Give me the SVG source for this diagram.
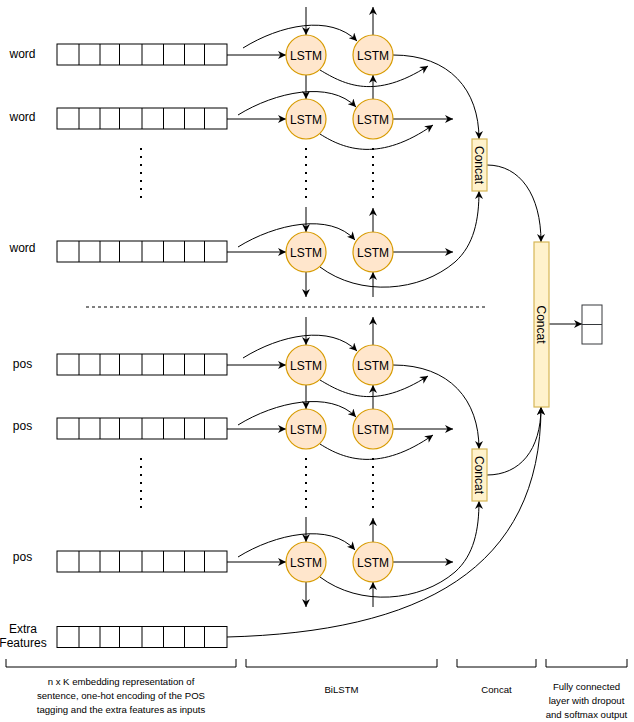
<svg xmlns="http://www.w3.org/2000/svg" xmlns:xlink="http://www.w3.org/1999/xlink" width="634" height="722" viewBox="0 0 634 722">
  <style>
    .cell{fill:#fff;stroke:#000;stroke-width:1}
    .lstm{fill:#ffe6cc;stroke:#d79b00;stroke-width:1.2}
    .cc{fill:#fff2cc;stroke:#d6b656;stroke-width:1.2}
    .t{font-family:"Liberation Sans",Arial,sans-serif;font-size:12px;fill:#000}
    .s{font-family:"Liberation Sans",Arial,sans-serif;font-size:9.6px;fill:#000}
    .mid{text-anchor:middle}
    .ln{fill:none;stroke:#000;stroke-width:1}
    .ar{marker-end:url(#ah)}
    .dot{fill:none;stroke:#000;stroke-width:2;stroke-dasharray:2 6}
    .dash{fill:none;stroke:#000;stroke-width:1;stroke-dasharray:3 3}
  </style>
  <defs>
    <marker id="ah" viewBox="0 0 10 10" refX="10" refY="5" markerWidth="8" markerHeight="8" markerUnits="userSpaceOnUse" orient="auto">
      <path d="M0,0 L10,5 L0,10 L3,5 z" fill="#000"/>
    </marker>
    <!-- 8-cell input vector -->
    <g id="vec">
      <rect x="0" y="0" width="170" height="21" class="cell"/>
      <path d="M22 0v21M43 0v21M62.5 0v21M85 0v21M106.5 0v21M127.5 0v21M147.5 0v21" class="ln"/>
    </g>
    <!-- recurrent links of one BiLSTM block (three time steps) -->
    <g id="block-links">
      <path class="ln ar" d="M306 7V35"/>
      <path class="ln ar" d="M373 35V7"/>
      <path class="ln ar" d="M227 55H286"/>
      <path class="ln ar" d="M243 48C280 25 330 14 357 41"/>
      <path class="ln ar" d="M320 70C345 85 375 100 428 66"/>
      <path class="ln ar" d="M393 55C450 55 479 90 479 139"/>
      <path class="ln ar" d="M306 75V99"/>
      <path class="ln ar" d="M373 99V75"/>
      <path class="ln ar" d="M227 119H286"/>
      <path class="ln ar" d="M238 115C275 92 330 80 356 107"/>
      <path class="ln ar" d="M320 134C345 150 380 162 433 125"/>
      <path class="ln ar" d="M393 119H453"/>
      <path class="dot" d="M141 148V198M306 148V198M373 148V198"/>
      <path class="ln ar" d="M306 207V232"/>
      <path class="ln ar" d="M373 232V208"/>
      <path class="ln ar" d="M227 252H286"/>
      <path class="ln ar" d="M238 247C275 224 330 212 355 240"/>
      <path class="ln ar" d="M393 252H453"/>
      <path class="ln ar" d="M306 272V297"/>
      <path class="ln ar" d="M373 297V272"/>
      <path class="ln ar" d="M320 267C360 297 420 292 455 262C474 245 479 220 479 191"/>
    </g>
  </defs>

  <!-- connectors -->
  <g id="connectors">
    <use xlink:href="#block-links"/>
    <use xlink:href="#block-links" transform="translate(0,310)"/>
    <path class="ln ar" d="M487 165C520 165 541 195 541 242"/>
    <path class="ln ar" d="M487 475C520 475 541 450 541 407"/>
    <path class="ln ar" d="M227 637C420 632 541 570 541 407"/>
    <path class="ln ar" d="M549 324H582"/>
    <path class="dash" d="M86 307H486"/>
  </g>

  <!-- word inputs -->
  <g id="word-1"><text class="t mid" x="22.5" y="58">word</text><use xlink:href="#vec" x="57" y="44"/></g>
  <g id="word-2"><text class="t mid" x="22.5" y="121">word</text><use xlink:href="#vec" x="57" y="108"/></g>
  <g id="word-n"><text class="t mid" x="22.5" y="252">word</text><use xlink:href="#vec" x="57" y="241"/></g>
  <!-- POS inputs -->
  <g id="pos-1"><text class="t mid" x="22.5" y="368">pos</text><use xlink:href="#vec" x="57" y="354"/></g>
  <g id="pos-2"><text class="t mid" x="22.5" y="430">pos</text><use xlink:href="#vec" x="57" y="418"/></g>
  <g id="pos-n"><text class="t mid" x="22.5" y="561">pos</text><use xlink:href="#vec" x="57" y="551"/></g>
  <!-- extra features -->
  <g id="extra">
    <text class="t mid" x="23" y="633">Extra</text>
    <text class="t mid" x="23" y="647">Features</text>
    <use xlink:href="#vec" x="57" y="626.5"/>
  </g>

  <!-- LSTM cells, word block -->
  <g id="lstm-w1f"><circle class="lstm" cx="306" cy="55" r="20"/><text class="t mid" x="306" y="59.5">LSTM</text></g>
  <g id="lstm-w1b"><circle class="lstm" cx="373" cy="55" r="20"/><text class="t mid" x="373" y="59.5">LSTM</text></g>
  <g id="lstm-w2f"><circle class="lstm" cx="306" cy="119" r="20"/><text class="t mid" x="306" y="123.5">LSTM</text></g>
  <g id="lstm-w2b"><circle class="lstm" cx="373" cy="119" r="20"/><text class="t mid" x="373" y="123.5">LSTM</text></g>
  <g id="lstm-wnf"><circle class="lstm" cx="306" cy="252" r="20"/><text class="t mid" x="306" y="256.5">LSTM</text></g>
  <g id="lstm-wnb"><circle class="lstm" cx="373" cy="252" r="20"/><text class="t mid" x="373" y="256.5">LSTM</text></g>
  <!-- LSTM cells, POS block -->
  <g id="lstm-p1f"><circle class="lstm" cx="306" cy="365" r="20"/><text class="t mid" x="306" y="369.5">LSTM</text></g>
  <g id="lstm-p1b"><circle class="lstm" cx="373" cy="365" r="20"/><text class="t mid" x="373" y="369.5">LSTM</text></g>
  <g id="lstm-p2f"><circle class="lstm" cx="306" cy="429" r="20"/><text class="t mid" x="306" y="433.5">LSTM</text></g>
  <g id="lstm-p2b"><circle class="lstm" cx="373" cy="429" r="20"/><text class="t mid" x="373" y="433.5">LSTM</text></g>
  <g id="lstm-pnf"><circle class="lstm" cx="306" cy="562" r="20"/><text class="t mid" x="306" y="566.5">LSTM</text></g>
  <g id="lstm-pnb"><circle class="lstm" cx="373" cy="562" r="20"/><text class="t mid" x="373" y="566.5">LSTM</text></g>

  <!-- concatenation layers -->
  <g id="concat-word"><rect class="cc" x="472" y="139" width="15" height="52"/><text class="t mid" transform="translate(479.5,165) rotate(90)" y="4.3">Concat</text></g>
  <g id="concat-pos"><rect class="cc" x="472" y="449" width="15" height="52"/><text class="t mid" transform="translate(479.5,475) rotate(90)" y="4.3">Concat</text></g>
  <g id="concat-all"><rect class="cc" x="534" y="242" width="15" height="165"/><text class="t mid" transform="translate(541.5,324.5) rotate(90)" y="4.3">Concat</text></g>

  <!-- dense output -->
  <g id="output">
    <rect x="582" y="305" width="20" height="39" fill="#fff" stroke="#36393d"/>
    <path d="M582 324.5H602" stroke="#36393d" fill="none"/>
  </g>

  <!-- stage brackets and captions -->
  <g id="stages">
    <path class="ln" d="M6 659V667H236V659M246 659V667H437V659M457 659V667H536V659M546 659V667H627V659"/>
    <text class="s mid" x="121" y="684.5">n x K embedding representation of</text>
    <text class="s mid" x="121" y="698.5">sentence, one-hot encoding of the POS</text>
    <text class="s mid" x="121" y="712.5">tagging and the extra features as inputs</text>
    <text class="s mid" x="341.5" y="692.5">BiLSTM</text>
    <text class="s mid" x="496.5" y="692.5">Concat</text>
    <text class="s mid" x="586.5" y="689.5">Fully connected</text>
    <text class="s mid" x="586.5" y="703.5">layer with dropout</text>
    <text class="s mid" x="586.5" y="717.5">and softmax output</text>
  </g>
</svg>
